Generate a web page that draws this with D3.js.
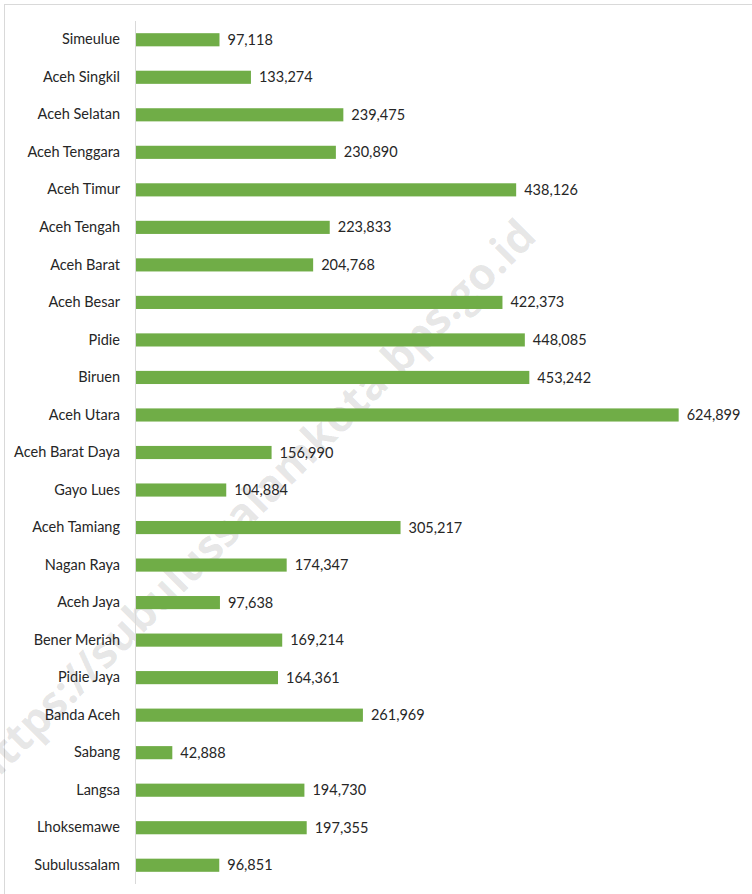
<!DOCTYPE html>
<html>
<head>
<meta charset="utf-8">
<script src="https://cdn.jsdelivr.net/npm/d3@7"></script>
<style>
  body { margin: 0; background: #fff; }
  svg { display: block; }
</style>
</head>
<body>
<svg id="chart"></svg>
<script>
const kabupaten = ["Simeulue", "Aceh Singkil", "Aceh Selatan", "Aceh Tenggara", "Aceh Timur",
  "Aceh Tengah", "Aceh Barat", "Aceh Besar", "Pidie", "Biruen", "Aceh Utara", "Aceh Barat Daya",
  "Gayo Lues", "Aceh Tamiang", "Nagan Raya", "Aceh Jaya", "Bener Meriah", "Pidie Jaya",
  "Banda Aceh", "Sabang", "Langsa", "Lhoksemawe", "Subulussalam"]
const penduduk = [97118, 133274, 239475, 230890, 438126, 223833, 204768, 422373, 448085, 453242,
  624899, 156990, 104884, 305217, 174347, 97638, 169214, 164361, 261969, 42888, 194730, 197355, 96851]
const xMax = 700000

const width = 752
const height = 894
const left = 135

const svg = d3.select('#chart')
  .attr('width', width)
  .attr('height', height)

// frame (only top and left show in the picture)
svg.append('rect')
  .attr('x', 4.5).attr('y', 4.5)
  .attr('width', width + 20).attr('height', height + 20)
  .attr('fill', 'none')
  .attr('stroke', '#d9d9d9')

const x = d3.scaleLinear().domain([0, xMax]).range([left, left + 609])
const y = d3.scaleBand().domain(kabupaten).range([21, 884]).paddingInner(0.65).paddingOuter(0.325)

// watermark
svg.append('text')
  .attr('transform', 'translate(255,505) rotate(-45)')
  .attr('text-anchor', 'middle')
  .attr('dominant-baseline', 'middle')
  .style('font-family', 'Open Sans, sans-serif')
  .style('font-weight', 'bold')
  .style('font-size', '44px')
  .style('fill', '#000')
  .style('fill-opacity', 0.1)
  .text('https://subulussalamkota.bps.go.id')

svg.selectAll('.bar')
  .data(penduduk)
  .join('rect')
  .attr('class', 'bar')
  .attr('x', x(0))
  .attr('y', (d, i) => y(kabupaten[i]))
  .attr('width', d => x(d) - x(0))
  .attr('height', y.bandwidth())
  .attr('fill', '#70ad47')

svg.selectAll('.val')
  .data(penduduk)
  .join('text')
  .attr('class', 'val')
  .attr('x', d => x(d) + 8)
  .attr('y', (d, i) => y(kabupaten[i]) + y.bandwidth() / 2)
  .attr('dy', '0.35em')
  .style('font-family', 'Lato, sans-serif')
  .style('font-size', '14.5px')
  .style('fill', '#262626')
  .text(d => d3.format(',')(d))

const yAxis = svg.append('g')
  .attr('transform', `translate(${left},0)`)
  .call(d3.axisLeft(y).tickSize(0).tickPadding(15))
yAxis.select('.domain').attr('stroke', '#d9d9d9').attr('d', 'M0.5,21V884')
yAxis.selectAll('text')
  .style('font-family', 'Lato, sans-serif')
  .style('font-size', '14.5px')
  .style('fill', '#262626')
</script>
</body>
</html>
